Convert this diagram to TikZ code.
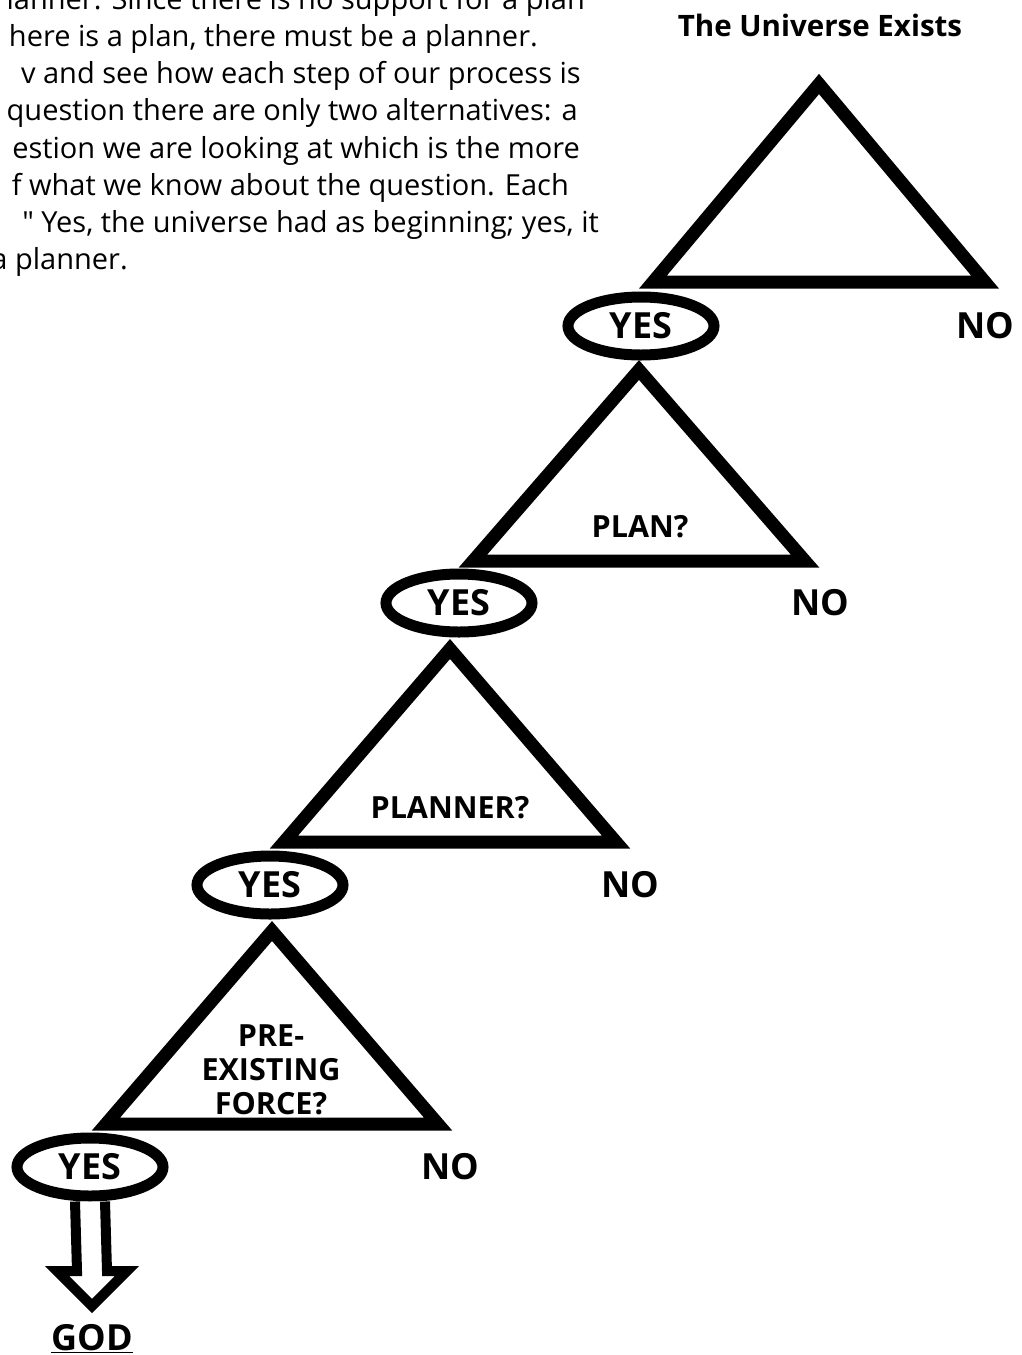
\documentclass[tikz,border=0pt]{standalone}
\usepackage{fontspec}
\setmainfont{Open Sans}
\usetikzlibrary{shapes.geometric,calc}

\begin{document}
\begin{tikzpicture}[
  x=1pt, y=-1pt,
  tri/.style={draw, line width=13pt, line join=miter},
  yesbox/.style={ellipse, draw, line width=11pt, fill=white, inner sep=0pt,
                 minimum width=146pt, minimum height=58pt,
                 font=\fontsize{36}{42}\selectfont\bfseries},
  nolbl/.style={inner sep=0pt, font=\fontsize{36}{42}\selectfont\bfseries},
  ask/.style={align=center, inner sep=0pt, font=\fontsize{30.5}{34}\selectfont\bfseries},
  txt/.style={anchor=base east, inner sep=0pt, font=\fontsize{29}{37}\selectfont},
  hollow/.style={draw, line width=10pt, fill=white}
]
\useasboundingbox (0,0) rectangle (1022,1355);
\clip (0,0) rectangle (1022,1355);

% intro text, cut off at the left
\node[txt] (l1) at (585,9) {lanner. Since there is no support for a plan};
\node[txt] (l2) at (538,46) {here is a plan, there must be a planner.};
\node[txt] (l3) at (581,83) {v and see how each step of our process is};
\node[txt] (l4) at (578,120) {question there are only two alternatives: a};
\node[txt] (l5) at (580,158) {estion we are looking at which is the more};
\node[txt] (l6) at (569,195) {f what we know about the question. Each};
\node[txt] (l7) at (599,232) {\textquotedbl{} Yes, the universe had as beginning; yes, it};
\node[txt] (l8) at (128,269) {a planner.};

% step 1
\node[ask, font=\fontsize{29.5}{34}\selectfont\bfseries] (title) at (820,25) {The Universe Exists};
\coordinate (apex1) at (819,84);
\draw[tri] (apex1) -- ++(-166,198) -- ++(332,0) -- cycle;
\node[yesbox] (yes1) at (641,326) {YES};
\node[nolbl] (no1) at (985,326) {NO};

% step 2
\coordinate (apex2) at (639,370);
\draw[tri] (apex2) -- ++(-166,191) -- ++(332,0) -- cycle;
\node[ask] (plan) at (640,527) {PLAN?};
\node[yesbox] (yes2) at (459,603) {YES};
\node[nolbl] (no2) at (820,603) {NO};

% step 3
\coordinate (apex3) at (450,649);
\draw[tri] (apex3) -- ++(-166,193) -- ++(332,0) -- cycle;
\node[ask] (planner) at (450,808) {PLANNER?};
\node[yesbox] (yes3) at (270,885) {YES};
\node[nolbl] (no3) at (630,885) {NO};

% step 4
\coordinate (apex4) at (272,931);
\draw[tri] (apex4) -- ++(-166,193) -- ++(332,0) -- cycle;
\node[ask] (force) at (271,1070) {PRE-\\EXISTING\\FORCE?};
\node[yesbox] (yes4) at (90,1167) {YES};
\node[nolbl] (no4) at (450,1167) {NO};

% answer
\node[nolbl, anchor=north] (god) at (92,1324) {\underline{GOD}};
\draw[hollow] ($(yes4.south)+(-15,0)$) -- ($(god.north)+(-15,-53)$)
  -- ($(god.north)+(-35,-53)$) -- ($(god.north)+(0,-18)$)
  -- ($(god.north)+(35,-53)$) -- ($(god.north)+(15,-53)$)
  -- ($(yes4.south)+(15,0)$);
\end{tikzpicture}
\end{document}
